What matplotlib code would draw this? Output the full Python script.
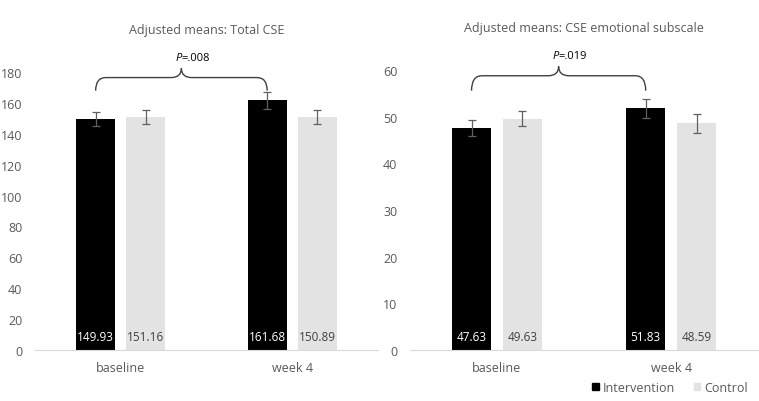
import matplotlib.pyplot as plt
from matplotlib.path import Path
from matplotlib.patches import PathPatch, Patch

plt.rcParams['font.family'] = ['Open Sans', 'DejaVu Sans']

categories = ['baseline', 'week 4']
groups = ['Intervention', 'Control']

total_means = {'Intervention': [149.93, 161.68], 'Control': [151.16, 150.89]}
total_err = {'Intervention': [4.5, 5.5], 'Control': [4.5, 4.5]}
total_pval = '=.008'

emo_means = {'Intervention': [47.63, 51.83], 'Control': [49.63, 48.59]}
emo_err = {'Intervention': [1.7, 2.0], 'Control': [1.6, 2.1]}
emo_pval = '=.019'

colors = {'Intervention': '#000000', 'Control': '#E3E3E3'}
label_colors = {'Intervention': 'white', 'Control': '#404040'}
text_gray = '#595959'


def brace(ax, x0, x1, yb, yt, yp, r):
    xm = (x0 + x1) / 2
    verts = [(x0, yb), (x0, yt), (x0 + r, yt),
             (xm - r, yt), (xm, yt), (xm, yp),
             (xm, yt), (xm + r, yt),
             (x1 - r, yt), (x1, yt), (x1, yb)]
    codes = [Path.MOVETO, Path.CURVE3, Path.CURVE3,
             Path.LINETO, Path.CURVE3, Path.CURVE3,
             Path.CURVE3, Path.CURVE3,
             Path.LINETO, Path.CURVE3, Path.CURVE3]
    ax.add_patch(PathPatch(Path(verts, codes), fill=False, lw=1.0,
                           color='#404040', clip_on=False))


def draw(ax, means, errs, ymax, step, title, pval, brace_y):
    width = 0.227
    off = 0.146
    for i, g in enumerate(groups):
        xs = [k + (off if i else -off) for k in range(len(categories))]
        ax.bar(xs, means[g], width, color=colors[g], zorder=2)
        ax.errorbar(xs, means[g], yerr=errs[g], fmt='none', ecolor='#606060',
                    elinewidth=0.9, capsize=3, capthick=0.9, zorder=3)
        for x, v in zip(xs, means[g]):
            ax.text(x, ymax * 0.047, f'{v:.2f}', ha='center', va='center',
                    fontsize=8.5, color=label_colors[g], zorder=4)
    ax.set_xlim(-0.5, 1.5)
    ax.set_ylim(0, ymax)
    ax.set_yticks(range(0, ymax + 1, step))
    ax.set_xticks(range(len(categories)))
    ax.set_xticklabels(categories)
    for s in ['top', 'right', 'left']:
        ax.spines[s].set_visible(False)
    ax.spines['bottom'].set_color('#D9D9D9')
    ax.tick_params(axis='both', length=0, colors=text_gray, labelsize=9)
    ax.tick_params(axis='y', pad=9)
    ax.tick_params(axis='x', pad=8)
    ax.set_title(title, fontsize=9, color=text_gray, pad=28)
    yb, yt, yp = brace_y
    brace(ax, -off, 1 - off, yb, yt, yp, 0.06)
    ax.annotate('P', (0.5 - off, yp), xytext=(0, 4), textcoords='offset points',
                style='italic', ha='right', va='bottom', fontsize=8,
                color='black', annotation_clip=False)
    ax.annotate(pval, (0.5 - off, yp), xytext=(0, 4), textcoords='offset points',
                ha='left', va='bottom', fontsize=8, color='black',
                annotation_clip=False)


fig = plt.figure(figsize=(7.59, 4.02), dpi=100)
ax1 = fig.add_axes([0.046, 0.127, 0.452, 0.691])
ax2 = fig.add_axes([0.540, 0.127, 0.459, 0.696])

draw(ax1, total_means, total_err, 180, 20, 'Adjusted means: Total CSE',
     total_pval, (168, 176.5, 182.5))
draw(ax2, emo_means, emo_err, 60, 10, 'Adjusted means: CSE emotional subscale',
     emo_pval, (55.6, 58.8, 60.8))

handles = [Patch(color=colors[g], label=g) for g in groups]
fig.legend(handles=handles, loc='lower right', bbox_to_anchor=(1.0, -0.01),
           ncol=2, frameon=False, fontsize=9, handlelength=0.55,
           handleheight=0.55, handletextpad=0.3, columnspacing=1.5,
           labelcolor=text_gray)

fig.savefig('out.png', dpi=100)
